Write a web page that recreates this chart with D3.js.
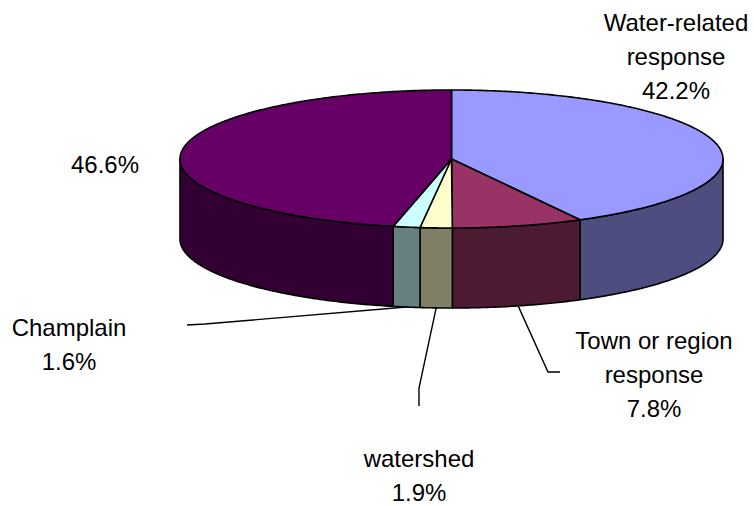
<!DOCTYPE html>
<html>
<head>
<meta charset="utf-8">
<script src="https://cdn.jsdelivr.net/npm/d3@7"></script>
<style>
  body { margin: 0; background: #fff; }
  svg { display: block; }
  text { font-family: "Liberation Sans", Arial, sans-serif; font-size: 24px; fill: #000; }
</style>
</head>
<body>
<script>
const names = ["Water-related response", "Town or region response", "watershed", "Champlain", "other"]
const values = [42.2, 7.8, 1.9, 1.6, 46.6]
const labelLines = [
    ["Water-related", "response", "42.2%"],
    ["Town or region", "response", "7.8%"],
    ["watershed", "1.9%"],
    ["Champlain", "1.6%"],
    ["46.6%"]
]
const topColors = ["#9999ff", "#993366", "#ffffcc", "#ccffff", "#660066"]
const sideColors = ["#4d4d80", "#4d1a33", "#808066", "#668080", "#330033"]

// label layout (x centre, first baseline) and leader elbows
const labelPos = [[676, 31], [654, 349], [419, 467], [69, 336], [105, 173]]
const leaders = [null, [[548, 372], [560, 372]], [[419, 388], [419, 406]], [[205, 324], [187, 325]], null]

function init(){
    const width = 754
    const height = 506
    const depth = 80
    const lineH = 34

    const svg = d3.select("body").append("svg")
        .attr("width", width)
        .attr("height", height)

    // unit ellipse -> screen
    const x = d3.scaleLinear().domain([-1, 1]).range([180, 723])
    const y = d3.scaleLinear().domain([-1, 1]).range([90, 228])

    const pie = d3.pie().sort(null).value(d => d)
    const arcs = pie(values)

    const pt = (a, dy) => [x(Math.sin(a)), y(-Math.cos(a)) + dy]

    function arcPoints(a0, a1, dy){
        const n = Math.max(2, Math.ceil((a1 - a0) / 0.01))
        return d3.range(n + 1).map(i => pt(a0 + (a1 - a0) * i / n, dy))
    }

    const line = d3.line()

    // side walls (front half only)
    const sides = svg.append("g")
    arcs.forEach((d, i) => {
        const s = Math.max(d.startAngle, Math.PI / 2)
        const e = Math.min(d.endAngle, Math.PI * 1.5)
        if (e <= s) return
        const pts = arcPoints(s, e, 0).concat(arcPoints(s, e, depth).reverse())
        sides.append("path")
            .attr("d", line(pts) + "Z")
            .attr("fill", sideColors[i])
            .attr("stroke", "#000")
            .attr("stroke-width", 1.6)
            .attr("stroke-linejoin", "round")
    })

    // top faces
    const tops = svg.append("g")
    arcs.forEach((d, i) => {
        const pts = [[x(0), y(0)]].concat(arcPoints(d.startAngle, d.endAngle, 0))
        tops.append("path")
            .attr("d", line(pts) + "Z")
            .attr("fill", topColors[i])
            .attr("stroke", "#000")
            .attr("stroke-width", 1.6)
            .attr("stroke-linejoin", "round")
    })

    // leader lines from the bottom rim
    arcs.forEach((d, i) => {
        if (!leaders[i]) return
        const mid = (d.startAngle + d.endAngle) / 2
        const pts = [pt(mid, depth)].concat(leaders[i])
        svg.append("path")
            .attr("d", line(pts))
            .attr("fill", "none")
            .attr("stroke", "#000")
            .attr("stroke-width", 1.4)
    })

    // labels
    labelLines.forEach((lines, i) => {
        const t = svg.append("text")
            .attr("text-anchor", "middle")
        lines.forEach((s, j) => {
            t.append("tspan")
                .attr("x", labelPos[i][0])
                .attr("y", labelPos[i][1] + j * lineH)
                .text(s)
        })
    })
}

init()
</script>
</body>
</html>
